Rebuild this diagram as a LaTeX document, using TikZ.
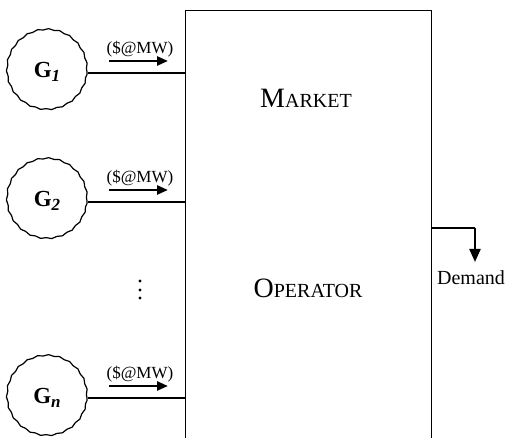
\documentclass[tikz,border=0pt]{standalone}
\usepackage{fontspec}
\setmainfont{Liberation Serif}
\usetikzlibrary{arrows.meta,decorations.pathmorphing,calc}
\begin{document}
\begin{tikzpicture}[x=1pt,y=1pt,
  gen/.style={circle,minimum size=80pt,inner sep=0pt,line width=1.2pt,
    decorate,decoration={snake,segment length=11pt,amplitude=0.6pt},draw},
  wire/.style={line width=1.3pt},
  price/.style={line width=2.4pt,-{Triangle[length=11pt,width=9pt]}},
  lbl/.style={font=\fontsize{17}{17}\selectfont,inner sep=0pt},
  capbig/.style={font=\fontsize{28}{28}\selectfont,inner sep=0pt,anchor=base}
]
\useasboundingbox (0,0) rectangle (507,438);
% Market operator box (runs past the bottom edge)
\node[draw,line width=1.4pt,minimum width=246pt,minimum height=460pt,anchor=north west,inner sep=0pt] (mo) at (185,428) {};
\node[capbig] (mk) at (306,330) {M\fontsize{20}{20}\selectfont ARKET};
\node[capbig] (op) at (308,140) {O\fontsize{20}{20}\selectfont PERATOR};
% generators
\newcommand{\glab}[1]{\fontsize{23}{23}\selectfont\bfseries G\raisebox{-4pt}{\fontsize{17}{17}\selectfont\bfseries\itshape #1}}
\node[gen] (g1) at (47,366) {};
\node[gen] (g2) at (47,237) {};
\node[gen] (gn) at (47,40) {};
\node[inner sep=0pt] at (g1) {\glab{1}};
\node[inner sep=0pt] at (g2) {\glab{2}};
\node[inner sep=0pt] at (gn) {\glab{n}};
% wires to the operator
\coordinate (w1) at (88,365);
\coordinate (w2) at (88,236);
\coordinate (wn) at (88,40);
\draw[wire] (w1) -- (w1 -| mo.west);
\draw[wire] (w2) -- (w2 -| mo.west);
\draw[wire] (wn) -- (wn -| mo.west);
% price arrows
\foreach \n/\y in {1/377,2/248,n/52}{
  \coordinate (a\n s) at (109,\y);
  \coordinate (a\n e) at (168,\y);
  \draw[price] (a\n s) -- (a\n e);
  \node[lbl,anchor=base] (p\n) at (140,\y+7) {(\$@MW)};
}
% vertical dots
\foreach \y in {157,148,140}{\fill (140,\y) circle (1.7pt);}
% demand
\coordinate (d0) at (mo.east |- 0,210);
\coordinate (d1) at (475,210);
\coordinate (d2) at (475,176);
\draw[wire] (d0) -- (d1);
\draw[line width=2.2pt,-{Triangle[length=13pt,width=11pt]}] (d1) -- (d2);
\node[font=\fontsize{20}{20}\selectfont,inner sep=0pt,anchor=base] (dem) at (471,153) {Demand};
\end{tikzpicture}
\end{document}
